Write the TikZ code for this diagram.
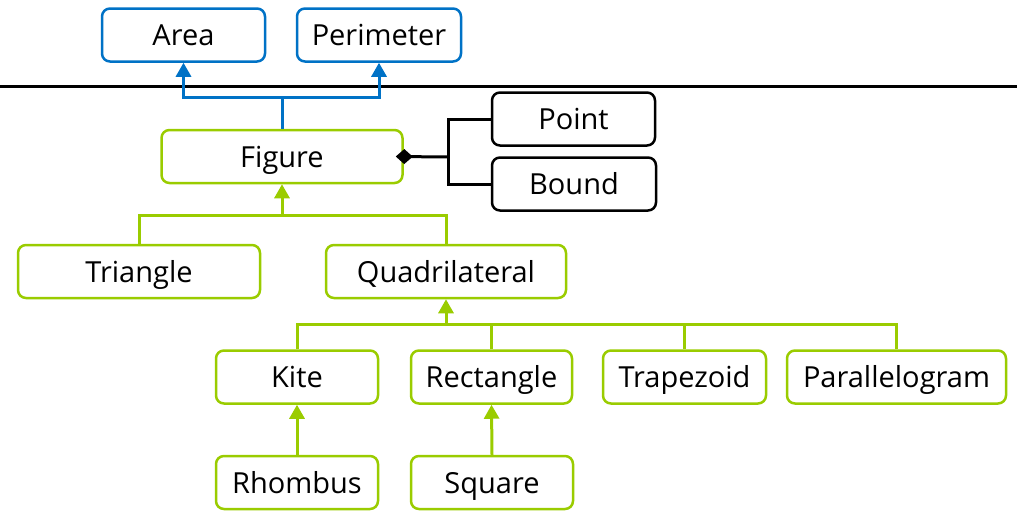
\documentclass[tikz,border=0pt]{standalone}
\usepackage{fontspec}
\setmainfont{Open Sans}
\usetikzlibrary{arrows.meta}
\definecolor{boxblue}{RGB}{0,114,198}
\definecolor{boxgreen}{RGB}{154,204,0}
\tikzset{
  x=1pt, y=-1pt,
  box/.style={draw, rounded corners=8pt, line width=2.5pt, minimum height=53pt,
    inner sep=0pt, font=\fontsize{29}{33}\selectfont, text height=21pt, text depth=0pt,
    fill=white, text=black},
  bluebox/.style={box, draw=boxblue},
  greenbox/.style={box, draw=boxgreen},
  blackbox/.style={box, draw=black},
  conn/.style={line width=3pt},
  blueconn/.style={conn, draw=boxblue},
  greenconn/.style={conn, draw=boxgreen},
  tip/.style={-{Triangle[width=15pt,length=14pt]}},
}
\begin{document}
\begin{tikzpicture}
\useasboundingbox (0,0) rectangle (1017,512);

% upper tier
\node[bluebox, minimum width=163pt] (area) at (183.5,35) {Area};
\node[bluebox, minimum width=164pt] (per) at (379,35) {Perimeter};

% separator
\coordinate (sepL) at (0,86);
\coordinate (sepR) at (1017,86);
\draw[line width=3pt] (sepL) -- (sepR);

% figure and its parts
\node[greenbox, minimum width=241pt] (fig) at (282,156.5) {Figure};
\node[blackbox, minimum width=163pt] (point) at (573.5,119) {Point};
\node[blackbox, minimum width=164pt] (bound) at (574,184) {Bound};

% shapes
\node[greenbox, minimum width=242pt] (tri) at (139,271.5) {Triangle};
\node[greenbox, minimum width=240pt] (quad) at (446,271.5) {Quadrilateral};
\node[greenbox, minimum width=162pt] (kite) at (297,377) {Kite};
\node[greenbox, minimum width=161pt] (rect) at (491.5,377) {Rectangle};
\node[greenbox, minimum width=163pt] (trap) at (684.5,377) {Trapezoid};
\node[greenbox, minimum width=219pt] (para) at (896.5,377) {Parallelogram};
\node[greenbox, minimum width=162pt] (rhom) at (297,482.5) {Rhombus};
\node[greenbox, minimum width=162pt] (sq) at (492,482.5) {Square};

% figure -> area / perimeter
\coordinate (bj) at (282,97);
\draw[blueconn] (fig.north) -- (bj);
\draw[blueconn, tip] (bj) -| (area.south);
\draw[blueconn, tip] (bj) -| (per.south);

% composition: figure owns point and bound (diamond sits on the box edge)
\coordinate (cj) at (448,157);
\draw[conn, {Diamond[width=15pt,length=17pt]}-] ([xshift=-8pt]fig.east) -- (cj);
\draw[conn] (cj) |- (point.west);
\draw[conn] (cj) |- (bound.west);

% triangle / quadrilateral -> figure
\coordinate (gj) at (282,215);
\draw[greenconn, tip] (gj) -- (fig.south);
\draw[greenconn] (tri.north) |- (gj);
\draw[greenconn] (quad.north) |- (gj);

% quadrilateral children
\coordinate (qj) at (446,324);
\draw[greenconn, tip] (qj) -- (quad.south);
\draw[greenconn] (kite.north) |- (qj);
\draw[greenconn] (rect.north) |- (qj);
\draw[greenconn] (trap.north) |- (qj);
\draw[greenconn] (para.north) |- (qj);

% rhombus -> kite, square -> rectangle
\draw[greenconn, tip] (rhom.north) -- (kite.south);
\draw[greenconn, tip] (sq.north) -- (rect.south);
\end{tikzpicture}
\end{document}
